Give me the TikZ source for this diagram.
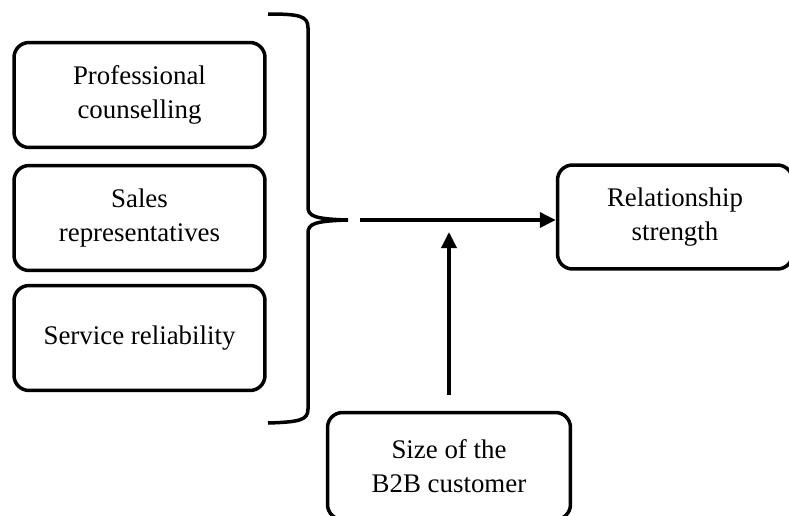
\documentclass[tikz,border=0pt]{standalone}
\usepackage{fontspec}
\setmainfont{Liberation Serif}
\usetikzlibrary{arrows.meta}

\begin{document}
\begin{tikzpicture}
  [x=0.02cm,y=-0.02cm,line width=0.07cm,
   every node/.style={draw,rounded corners=0.3cm,align=center,
     font=\fontsize{15.3}{19.5}\selectfont},
   factor/.style={minimum width=5.02cm,minimum height=2.1cm},
   arr/.style={-{Triangle[length=0.32cm,width=0.3cm]}}]
  \useasboundingbox (0,0) rectangle (789,515);
  \clip (0,0) rectangle (789,515);

  \node[factor] (prof) at (139.5,95)  {Professional\\counselling};
  \node[factor] (sales) at (139.5,218) {Sales\\representatives};
  \node[factor] (serv) at (139.5,338) {Service reliability};
  \node[minimum width=4.7cm,minimum height=2.08cm] (rel) at (675,217) {Relationship\\strength};
  \node[minimum width=4.86cm,minimum height=2.14cm] (size) at (449,466) {Size of the\\B2B customer};

  \coordinate (bstart) at (360,220);
  \coordinate (mod) at (449,232);

  \draw (268,14) .. controls (300,14) and (308,16) .. (308,28) -- (308,207)
    .. controls (308,216) and (314,219) .. (348,220)
    .. controls (314,221) and (308,224) .. (308,233) -- (308,409)
    .. controls (308,420) and (300,422) .. (268,423);

  \draw[arr] (bstart) -- (rel.west |- bstart);
  \draw[arr,shorten <=0.32cm] (size.north) -- (mod);

\end{tikzpicture}
\end{document}
